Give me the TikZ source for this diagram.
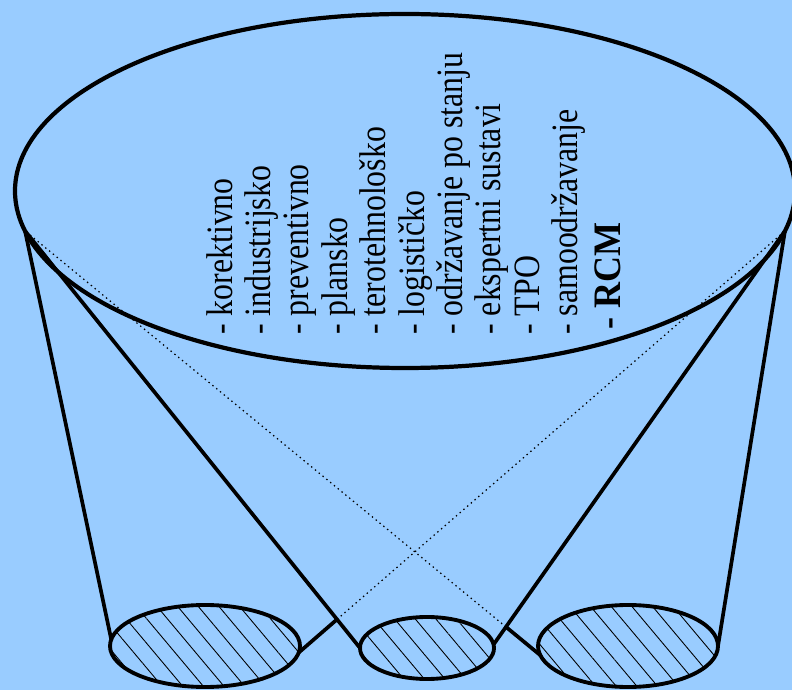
\documentclass[tikz,border=0pt]{standalone}
\usepackage{fontspec}
\setmainfont{Liberation Serif}
\usetikzlibrary{shapes.geometric, patterns.meta, intersections}
\definecolor{sky}{RGB}{153,204,255}
\newcommand{\tallbox}[2]{\scalebox{1}[#1]{#2}}

\begin{document}
\begin{tikzpicture}[x=0.2mm, y=-0.2mm,
  rim/.style={ellipse, draw, line width=2.4pt, inner sep=0pt, outer sep=0pt},
  cup/.style={rim, line width=2.2pt, pattern={Lines[angle=-50, distance=9pt, line width=0.5pt]}},
  side/.style={line width=2.1pt, line cap=round},
  backline/.style={line width=0.7pt, dash pattern=on 0.8pt off 2pt},
  entry/.style={rotate=90, anchor=base west, inner sep=0pt, font=\fontsize{18.1}{20}\selectfont}
]
\fill[sky] (0,0) rectangle (792,690);
\useasboundingbox (0,0) rectangle (792,690);

\node[rim, minimum width=156mm, minimum height=70.8mm] (big) at (405,191) {};
\node[cup, minimum width=38mm, minimum height=16.4mm] (lft) at (205,646) {};
\node[cup, minimum width=26.8mm, minimum height=12.4mm] (mid) at (427,648) {};
\node[cup, minimum width=36mm, minimum height=16.4mm] (rgt) at (628,646) {};

\draw[side] (big.186) -- (lft.176);
\draw[side, name path=ml] (big.186) -- (mid.180);
\draw[side, name path=mr] (big.354) -- (mid.3);
\draw[side] (big.354) -- (rgt.0);
\path[name path=lr] (lft.356) -- (big.354);
\path[name path=rl] (rgt.186) -- (big.186);
\path[name intersections={of=ml and lr, by=xl}];
\path[name intersections={of=mr and rl, by=xr}];
\draw[side] (lft.356) -- (xl);
\draw[backline] (xl) -- (big.354);
\draw[side] (rgt.186) -- (xr);
\draw[backline] (xr) -- (big.186);

\node[entry] (t1) at (232,335) {\tallbox{1.17}{- korektivno}};
\node[entry] (t2) at (270.4,335) {\tallbox{1.17}{- industrijsko}};
\node[entry] (t3) at (308.8,335) {\tallbox{1.17}{- preventivno}};
\node[entry] (t4) at (347.2,335) {\tallbox{1.17}{- plansko}};
\node[entry] (t5) at (385.6,335) {\tallbox{1.17}{- terotehnološko}};
\node[entry] (t6) at (424,335) {\tallbox{1.17}{- logističko}};
\node[entry] (t7) at (462.4,335) {\tallbox{1.17}{- održavanje po stanju}};
\node[entry] (t8) at (500.8,335) {\tallbox{1.17}{- ekspertni sustavi}};
\node[entry] (t9) at (539.2,335) {\tallbox{1.17}{- TPO}};
\node[entry] (t10) at (577.6,335) {\tallbox{1.17}{- samoodržavanje}};
\node[entry] (t11) at (620,330) {\tallbox{1.08}{\fontsize{20.5}{22}\selectfont\bfseries - RCM}};
\end{tikzpicture}
\end{document}
